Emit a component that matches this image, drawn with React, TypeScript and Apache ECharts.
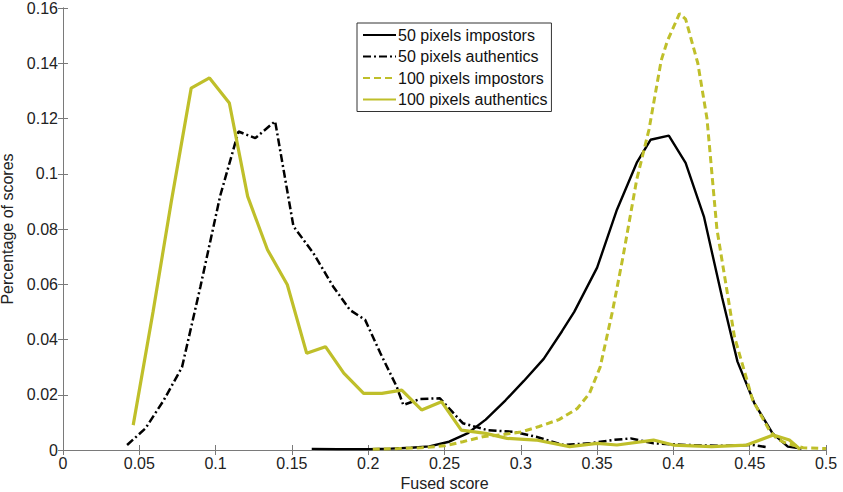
import React, { useEffect, useRef } from "react";
import * as echarts from "echarts";

const seriesNames = [
  "50 pixels impostors",
  "50 pixels authentics",
  "100 pixels impostors",
  "100 pixels authentics",
];

const imp50: number[][] = [
  [0.163, 0.0004], [0.18, 0.0003], [0.2, 0.0003], [0.215, 0.0005], [0.228, 0.0008],
  [0.24, 0.0013], [0.253, 0.003], [0.265, 0.006], [0.277, 0.011], [0.29, 0.018],
  [0.302, 0.025], [0.315, 0.033], [0.327, 0.043], [0.335, 0.05], [0.35, 0.066],
  [0.363, 0.087], [0.376, 0.104], [0.385, 0.1123], [0.397, 0.1138], [0.408, 0.1039],
  [0.42, 0.0845], [0.432, 0.055], [0.442, 0.032], [0.453, 0.017], [0.465, 0.006],
  [0.475, 0.0012], [0.484, 0.0005],
];

const auth50: number[][] = [
  [0.042, 0.0018], [0.054, 0.0078], [0.066, 0.018], [0.078, 0.03], [0.09, 0.059],
  [0.103, 0.092], [0.115, 0.1153], [0.126, 0.1129], [0.139, 0.119], [0.151, 0.081],
  [0.164, 0.0713], [0.177, 0.0592], [0.188, 0.0507], [0.198, 0.0471], [0.208, 0.035],
  [0.2187, 0.0229], [0.223, 0.0163], [0.234, 0.0185], [0.247, 0.0187], [0.262, 0.0097],
  [0.278, 0.0072], [0.295, 0.0066], [0.31, 0.0048], [0.328, 0.0018], [0.345, 0.0024],
  [0.36, 0.0036], [0.372, 0.0042], [0.387, 0.0024], [0.41, 0.0018], [0.43, 0.0015],
  [0.452, 0.0018], [0.462, 0.001],
];

const imp100: number[][] = [
  [0.203, 0.0003], [0.22, 0.0005], [0.235, 0.0008], [0.25, 0.0015], [0.262, 0.003],
  [0.275, 0.0048], [0.287, 0.0055], [0.3, 0.0065], [0.312, 0.0085], [0.325, 0.011],
  [0.337, 0.015], [0.345, 0.0205], [0.352, 0.03], [0.36, 0.05], [0.367, 0.07],
  [0.376, 0.098], [0.384, 0.116], [0.392, 0.141], [0.396, 0.148], [0.404, 0.158],
  [0.408, 0.156], [0.416, 0.14], [0.422, 0.12], [0.4285, 0.08], [0.435, 0.058],
  [0.44, 0.041], [0.452, 0.018], [0.463, 0.007], [0.468, 0.004], [0.474, 0.0024],
  [0.485, 0.0008], [0.5, 0.0005],
];

const auth100: number[][] = [
  [0.046, 0.009], [0.059, 0.05], [0.071, 0.09], [0.084, 0.131], [0.096, 0.1347],
  [0.109, 0.1256], [0.121, 0.0918], [0.134, 0.0725], [0.147, 0.0598], [0.1597, 0.035],
  [0.172, 0.0374], [0.184, 0.0278], [0.197, 0.0205], [0.209, 0.0205], [0.222, 0.0217],
  [0.235, 0.0145], [0.248, 0.0175], [0.261, 0.0072], [0.277, 0.006], [0.291, 0.0042],
  [0.31, 0.0036], [0.332, 0.0012], [0.35, 0.0024], [0.363, 0.0018], [0.387, 0.0036],
  [0.4, 0.0018], [0.425, 0.0012], [0.448, 0.0018], [0.4655, 0.0054], [0.476, 0.0036],
  [0.483, 0.0003],
];

const YELLOW = "#bfbf2a";
const AXIS = "#7a7a7a";
const FONT = "'Liberation Sans', Arial, sans-serif";

export default function App() {
  const ref = useRef<HTMLDivElement>(null);
  useEffect(() => {
    if (!ref.current) return;
    const chart = echarts.init(ref.current, undefined, { renderer: "svg" });
    const tick = { show: true, inside: true, length: 5, lineStyle: { color: AXIS } };
    const line = { show: true, lineStyle: { color: AXIS, width: 1 } };
    const label = { color: "#222", fontSize: 16, fontFamily: FONT };
    chart.setOption({
      animation: false,
      backgroundColor: "#fff",
      grid: { left: 63, right: 17, top: 8, bottom: 42, outerBoundsMode: "none", containLabel: false },
      textStyle: { fontFamily: FONT },
      legend: {
        orient: "vertical",
        left: 357,
        top: 23,
        data: seriesNames,
        itemWidth: 33,
        itemHeight: 14,
        itemGap: 5.5,
        padding: [4, 4, 4, 5],
        borderColor: "#333",
        borderWidth: 1,
        backgroundColor: "#fff",
        itemStyle: { opacity: 0 },
        textStyle: { color: "#111", fontSize: 16, fontFamily: FONT, padding: [0, 0, 0, -3] },
      },
      xAxis: [
        {
          type: "value",
          min: 0,
          max: 0.5,
          interval: 0.05,
          name: "Fused score",
          nameLocation: "middle",
          nameGap: 22,
          nameTextStyle: { ...label },
          axisLine: line,
          axisTick: tick,
          axisLabel: { ...label, margin: 5 },
          splitLine: { show: false },
        },
        {
          type: "value",
          position: "top",
          min: 0,
          max: 0.5,
          interval: 0.05,
          axisLine: line,
          axisTick: tick,
          axisLabel: { show: false },
          splitLine: { show: false },
        },
      ],
      yAxis: [
        {
          type: "value",
          min: 0,
          max: 0.16,
          interval: 0.02,
          name: "Percentage of scores",
          nameLocation: "middle",
          nameGap: 40,
          nameTextStyle: { ...label },
          axisLine: line,
          axisTick: tick,
          axisLabel: { ...label, margin: 5 },
          splitLine: { show: false },
        },
        {
          type: "value",
          position: "right",
          min: 0,
          max: 0.16,
          interval: 0.02,
          axisLine: line,
          axisTick: tick,
          axisLabel: { show: false },
          splitLine: { show: false },
        },
      ],
      series: [
        {
          name: seriesNames[0],
          type: "line",
          data: imp50,
          symbol: "none",
          itemStyle: { color: "#000" },
          lineStyle: { color: "#000", width: 2.4, type: "solid" },
        },
        {
          name: seriesNames[1],
          type: "line",
          data: auth50,
          symbol: "none",
          itemStyle: { color: "#000" },
          lineStyle: { color: "#000", width: 2.5, type: [8, 3, 2, 3] },
        },
        {
          name: seriesNames[2],
          type: "line",
          data: imp100,
          symbol: "none",
          itemStyle: { color: YELLOW },
          lineStyle: { color: YELLOW, width: 3, type: [7, 4] },
        },
        {
          name: seriesNames[3],
          type: "line",
          data: auth100,
          symbol: "none",
          itemStyle: { color: YELLOW },
          lineStyle: { color: YELLOW, width: 3.2, type: "solid" },
        },
      ],
    });
    return () => chart.dispose();
  }, []);
  return (
    <div
      ref={ref}
      style={{ position: "fixed", left: 0, top: 0, width: 843, height: 492 }}
    />
  );
}
